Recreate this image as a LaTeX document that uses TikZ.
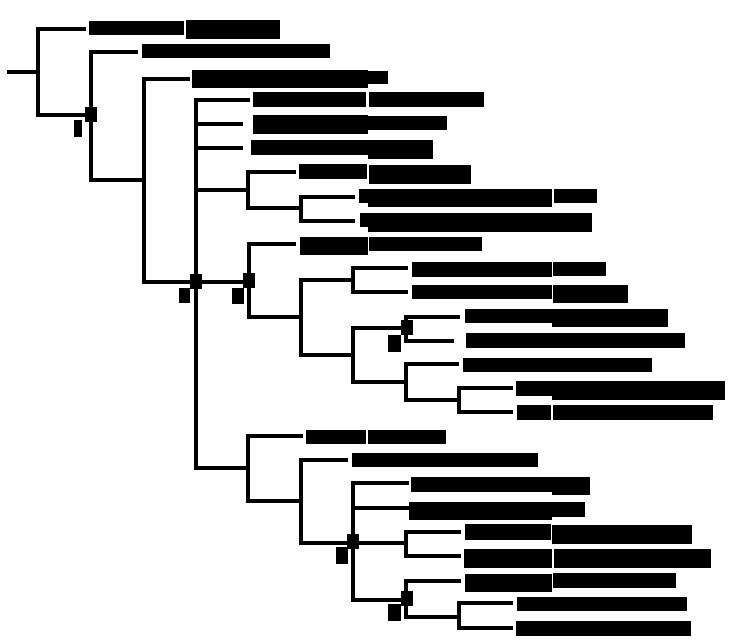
\documentclass[tikz,border=0pt]{standalone}
\usetikzlibrary{fit}
\begin{document}
\begin{tikzpicture}[x=1pt,y=-1pt,
  br/.style={line width=3.4pt,line join=miter,black},
  lbl/.style={fill=black,draw=none,inner sep=0pt,outer sep=0pt},
  sq/.style={fill=black,draw=none,inner sep=0pt,minimum width=12pt,minimum height=15pt},
  tag/.style={fill=black,draw=none,inner sep=0pt,outer sep=0pt}]
\useasboundingbox (0,0) rectangle (731,644);
% tree coordinates
\coordinate (r0) at (7,72);
\coordinate (r) at (38,72);
\coordinate (n1) at (91,115);
\coordinate (n2) at (144,180);
\coordinate (n3) at (196,282);
\coordinate (n4) at (248,190);
\coordinate (n7) at (301,208);
\coordinate (n5) at (249,282);
\coordinate (n8) at (301,317);
\coordinate (n9) at (353,280);
\coordinate (n10) at (353,355);
\coordinate (n11) at (406,328);
\coordinate (n12) at (406,382);
\coordinate (n13) at (459,400);
\coordinate (n6) at (248,468);
\coordinate (n14) at (301,501);
\coordinate (n15) at (353,543);
\coordinate (n16) at (406,543);
\coordinate (n17) at (406,600);
\coordinate (n18) at (459,617);
% leaf ends
\coordinate (eA) at (86,29);
\coordinate (eB) at (138,52);
\coordinate (eC) at (190,79);
\coordinate (eD) at (250,100);
\coordinate (eE) at (243,124);
\coordinate (eF) at (243,148);
\coordinate (eG) at (296,172);
\coordinate (eH) at (355,197);
\coordinate (eI) at (355,221);
\coordinate (eJ) at (296,244);
\coordinate (eK) at (408,268);
\coordinate (eL) at (408,292);
\coordinate (eM) at (460,317);
\coordinate (eN) at (454,341);
\coordinate (eO) at (459,364);
\coordinate (eP) at (513,388);
\coordinate (eQ) at (513,412);
\coordinate (eR) at (303,436);
\coordinate (eS) at (348,460);
\coordinate (eT) at (409,483);
\coordinate (eU) at (409,508);
\coordinate (eV) at (461,532);
\coordinate (eW) at (461,556);
\coordinate (eX) at (461,581);
\coordinate (eY) at (513,603);
\coordinate (eZ) at (513,628);
% branches
\draw[br] (r0) -- (r);
\draw[br] (r) |- (eA);
\draw[br] (r) |- (n1);
\draw[br] (n1) |- (eB);
\draw[br] (n1) |- (n2);
\draw[br] (n2) |- (eC);
\draw[br] (n2) |- (n3);
\draw[br] (n3) |- (eD);
\draw[br] (n3) |- (eE);
\draw[br] (n3) |- (eF);
\draw[br] (n3) |- (n4);
\draw[br] (n3) -- (n5);
\draw[br] (n3) |- (n6);
\draw[br] (n4) |- (eG);
\draw[br] (n4) |- (n7);
\draw[br] (n7) |- (eH);
\draw[br] (n7) |- (eI);
\draw[br] (n5) |- (eJ);
\draw[br] (n5) |- (n8);
\draw[br] (n8) |- (n9);
\draw[br] (n8) |- (n10);
\draw[br] (n9) |- (eK);
\draw[br] (n9) |- (eL);
\draw[br] (n10) |- (n11);
\draw[br] (n10) |- (n12);
\draw[br] (n11) |- (eM);
\draw[br] (n11) |- (eN);
\draw[br] (n12) |- (eO);
\draw[br] (n12) |- (n13);
\draw[br] (n13) |- (eP);
\draw[br] (n13) |- (eQ);
\draw[br] (n6) |- (eR);
\draw[br] (n6) |- (n14);
\draw[br] (n14) |- (eS);
\draw[br] (n14) |- (n15);
\draw[br] (n15) |- (eT);
\draw[br] (n15) |- (eU);
\draw[br] (n15) -- (n16);
\draw[br] (n15) |- (n17);
\draw[br] (n16) |- (eV);
\draw[br] (n16) |- (eW);
\draw[br] (n17) |- (eX);
\draw[br] (n17) |- (n18);
\draw[br] (n18) |- (eY);
\draw[br] (n18) |- (eZ);
% support squares
\node[sq] (s1) at (91,115) {};
\node[sq] (s3) at (196,282) {};
\node[sq] (s5) at (249,281) {};
\node[sq] (s11) at (407,328) {};
\node[sq] (s15) at (353,541) {};
\node[sq] (s17) at (407,598) {};
% small tags
\foreach \n/\xa/\ya/\xb/\yb in {t1/74/120/82/137, t3/179/288/190/303, t5/232/288/244/304,
  t11/388/335/401/352, t15/336/547/348/564, t17/388/604/401/621}
  \node[tag, fit={(\xa,\ya) (\xb,\yb)}] (\n) {};
% redacted labels
\foreach \n/\xa/\ya/\xb/\yb in {
  lA1/89/21/184/35, lA2/186/20/280/39,
  lB1/142/44/330/58,
  lC1/192/70/368/88, lC2/368/71/388/84,
  lD1/253/92/366/107, lD2/369/92/484/107,
  lE1/253/115/368/134, lE2/368/116/447/130,
  lF1/251/140/368/155, lF2/368/140/433/159,
  lG1/299/164/367/179, lG2/369/165/471/184,
  lH1/359/189/552/203, lH2/368/192/552/207, lH3/554/189/597/203,
  lI1/360/213/368/227, lI2/368/213/592/232,
  lJ1/300/237/368/255, lJ2/369/237/482/251,
  lK1/412/262/552/277, lK2/553/262/606/276,
  lL1/412/285/552/299, lL2/553/285/628/303,
  lM1/465/309/552/323, lM2/552/309/668/327,
  lN1/466/333/685/348,
  lO1/463/358/652/372,
  lP1/516/381/552/396, lP2/552/381/725/400,
  lQ1/517/405/551/420, lQ2/553/405/713/420,
  lR1/306/430/366/444, lR2/368/430/446/444,
  lS1/352/453/538/467,
  lT1/411/477/552/492, lT2/552/477/590/495,
  lU1/409/502/552/520, lU2/552/502/585/517,
  lV1/465/524/551/540, lV2/552/525/692/544,
  lW1/464/549/552/568, lW2/554/549/711/568,
  lX1/465/574/552/592, lX2/553/573/676/588,
  lY1/517/597/687/611,
  lZ1/516/621/691/636}
  \node[lbl, fit={(\xa,\ya) (\xb,\yb)}] (\n) {};
\end{tikzpicture}
\end{document}
